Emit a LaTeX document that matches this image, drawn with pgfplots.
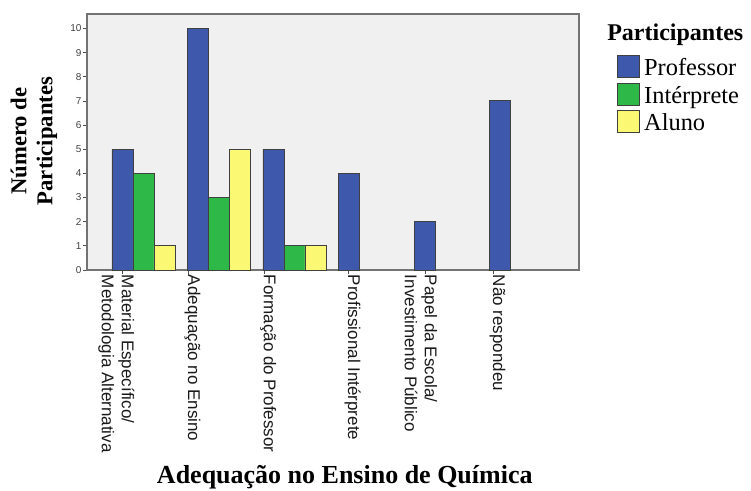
\documentclass[border=0pt]{standalone}
\usepackage{pgfplots}
\pgfplotsset{compat=1.18}
\usepackage{fontspec}
\setmainfont{Liberation Serif}
\setsansfont{Liberation Sans}
\definecolor{cblue}{HTML}{3E58AC}
\definecolor{cgreen}{HTML}{2EB848}
\definecolor{cyellow}{HTML}{FBF873}
\definecolor{cbg}{HTML}{F0F0F0}
\pgfplotsset{sqlegend/.style={legend image code/.code={\draw[##1] (0pt,-1.5pt) rectangle (16.5pt,15pt);}}}
\newcommand{\two}[2]{\vtop{\hbox{#1}\hbox{#2}}}
\begin{document}
\begin{tikzpicture}
\path[use as bounding box] (0,0) rectangle (563.25pt,367.5pt);
\begin{axis}[
  at={(65.25pt,165pt)}, anchor=south west,
  scale only axis, width=369pt, height=192pt,
  axis background/.style={fill=cbg},
  axis line style={draw=black!55, line width=1.1pt},
  ybar=0pt, bar width=15.75pt,
  xmin=-0.748, xmax=5.768, ymin=0, ymax=10.6,
  ytick={0,1,...,10},
  xtick={-0.285,0.59,1.596,2.709,3.728,4.629},
  xticklabels={{\two{Material Específico/}{Metodologia Alternativa}},{Adequação no Ensino},{Formação do Professor},{Profissional Intérprete},{\two{Papel da Escola/}{Investimento Público}},{Não respondeu}},
  xtick pos=bottom, ytick pos=left,
  tick align=outside, major tick length=3pt,
  tick style={black!70, line width=0.6pt},
  xticklabel style={rotate=-90, anchor=base west, inner xsep=0.5pt,
     font=\sffamily\fontsize{12.75}{15}\selectfont, text=black!90},
  yticklabel style={font=\sffamily\fontsize{7.5}{9}\selectfont, text=black!75, inner xsep=1pt},
  /pgf/number format/assume math mode=true,
  xlabel={Adequação no Ensino de Química},
  xlabel style={at={(axis description cs:0.524,-0.835)}, anchor=base, inner sep=0pt,
     font=\bfseries\fontsize{19.5}{22}\selectfont},
  ylabel={Número de\\Participantes},
  ylabel style={at={(axis description cs:-0.06,0.504)}, anchor=south, inner sep=0pt, align=center,
     font=\bfseries\fontsize{17}{19.5}\selectfont},
  legend style={at={(axis description cs:1.0772,0.8398)}, anchor=north west, draw=none, fill=none,
     inner sep=0pt, font=\fontsize{18.3}{20}\selectfont, cells={anchor=base west},
     nodes={inner sep=0pt, text depth=4.5pt, text height=12pt}, row sep=0.75pt, column sep=3pt},
]
\addplot[fill=cblue, draw=black!75, line width=0.7pt, sqlegend] coordinates {(0,5) (1,10) (2,5) (3,4) (4,2) (5,7)};
\addplot[fill=cgreen, draw=black!75, line width=0.7pt, sqlegend] coordinates {(0,4) (1,3) (2,1)};
\addplot[fill=cyellow, draw=black!75, line width=0.7pt, sqlegend] coordinates {(0,1) (1,5) (2,1)};
\legend{Professor,Intérprete,Aluno}
\end{axis}
\node[anchor=base west, font=\bfseries\fontsize{18}{20}\selectfont, inner sep=0pt] at (455.25pt,336.75pt) {Participantes};
\end{tikzpicture}
\end{document}
